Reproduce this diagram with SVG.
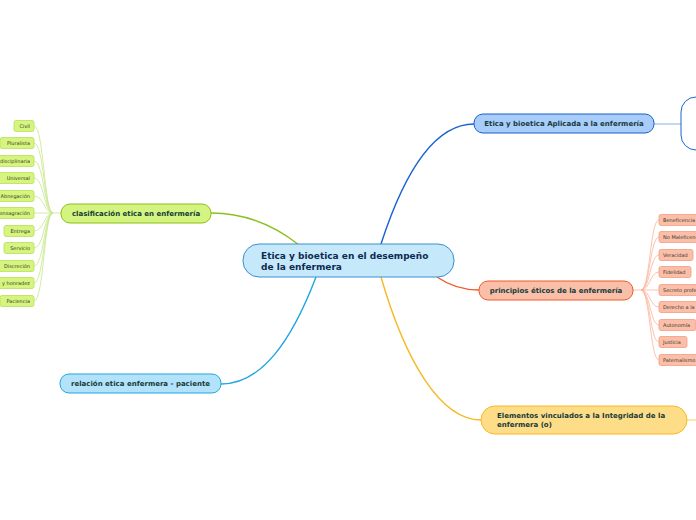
<svg xmlns="http://www.w3.org/2000/svg" width="696" height="520" viewBox="0 0 696 520">
<style>
text{font-family:"DejaVu Sans",Verdana,sans-serif;}
.c{fill:none;stroke-width:1.4;}
.t{font-weight:bold;font-size:7px;fill:#173a3a;}
.lg rect{fill:#d6f57f;stroke:#b7e05c;stroke-width:0.8;}
.lr rect{fill:#fbbfa9;stroke:#f59c80;stroke-width:0.8;}
.leaf{font-size:5px;fill:#3a3a2a;}
</style>
<rect width="696" height="520" fill="#fff"/>
<g id="connectors">
<path class="c" stroke="#8cbf18" d="M299,245 C275,226 245,213 211,213"/>
<path class="c" stroke="#1a64d0" d="M381,244 C405,170 435,124 474,124"/>
<path class="c" stroke="#f05a28" d="M437,277 C450,286 462,290 479,290"/>
<path class="c" stroke="#f8b820" d="M381,277 C405,360 440,420 481,420"/>
<path class="c" stroke="#1ea6e0" d="M316,277 C292,340 262,384 221,384"/>
<path class="c" stroke="#a8c8f0" stroke-width="2" d="M654,124 L681,124"/>
<path class="c" stroke="#fedd88" stroke-width="2" d="M687,420 L696,420"/>
<g stroke="#c8e68a" fill="none" stroke-width="0.8">
<path d="M61,213 L53,213"/>
<path d="M53,213 C44,213 44,126 34,126"/>
<path d="M53,213 C44,213 44,143 34,143"/>
<path d="M53,213 C44,213 44,161 34,161"/>
<path d="M53,213 C44,213 44,178 34,178"/>
<path d="M53,213 C44,213 44,196 34,196"/>
<path d="M53,213 L34,213"/>
<path d="M53,213 C44,213 44,231 34,231"/>
<path d="M53,213 C44,213 44,248 34,248"/>
<path d="M53,213 C44,213 44,266 34,266"/>
<path d="M53,213 C44,213 44,283 34,283"/>
<path d="M53,213 C44,213 44,301 34,301"/>
</g>
<g stroke="#fbb39a" fill="none" stroke-width="0.8">
<path d="M633,290 L641,290"/>
<path d="M641,290 C650,290 650,220 659,220"/>
<path d="M641,290 C650,290 650,237 659,237"/>
<path d="M641,290 C650,290 650,255 659,255"/>
<path d="M641,290 C650,290 650,272 659,272"/>
<path d="M641,290 L659,290"/>
<path d="M641,290 C650,290 650,307 659,307"/>
<path d="M641,290 C650,290 650,325 659,325"/>
<path d="M641,290 C650,290 650,342 659,342"/>
<path d="M641,290 C650,290 650,360 659,360"/>
</g>
</g>
<g id="central">
<rect x="243" y="244" width="211" height="33" rx="16" fill="#c5e9fb" stroke="#3a8fd0" stroke-width="1"/>
<text x="261" y="259" font-size="9" font-weight="bold" fill="#0d2a50">Etica y bioetica en el desempeño</text>
<text x="261" y="270" font-size="9" font-weight="bold" fill="#0d2a50">de la enfermera</text>
</g>
<g id="clasificacion">
<rect x="61" y="204" width="150" height="19" rx="9" fill="#d3f57f" stroke="#8cbf18" stroke-width="1"/>
<text class="t" x="136" y="216" text-anchor="middle">clasificación etica en enfermería</text>
</g>
<g id="aplicada">
<rect x="474" y="114" width="180" height="19" rx="9" fill="#a8cdfa" stroke="#1a5fc8" stroke-width="1"/>
<text class="t" x="564" y="126" text-anchor="middle">Etica y bioetica Aplicada a la enfermería</text>
</g>
<g id="aplicada-child">
<rect x="681" y="97" width="60" height="53" rx="15" fill="#fff" stroke="#1a64d0" stroke-width="1"/>
</g>
<g id="principios">
<rect x="479" y="281" width="154" height="19" rx="9" fill="#f9bfa8" stroke="#f05a28" stroke-width="1"/>
<text class="t" x="556" y="293" text-anchor="middle">principios éticos de la enfermería</text>
</g>
<g id="elementos">
<rect x="481" y="406" width="206" height="28" rx="14" fill="#fedd88" stroke="#f8b820" stroke-width="1"/>
<text class="t" x="497" y="418">Elementos vinculados a la Integridad de la</text>
<text class="t" x="497" y="427">enfermera (o)</text>
</g>
<g id="relacion">
<rect x="60" y="374" width="161" height="19" rx="9" fill="#b3e3fb" stroke="#1ea6e0" stroke-width="1"/>
<text class="t" x="140.5" y="386" text-anchor="middle">relación etica enfermera - paciente</text>
</g>
<g class="lg">
<g id="l-civil"><rect x="14" y="120.5" width="20" height="11" rx="2"/><text class="leaf" x="30" y="127.8" text-anchor="end">Civil</text></g>
<g id="l-pluralista"><rect x="0" y="137.5" width="34" height="11" rx="2"/><text class="leaf" x="30" y="144.8" text-anchor="end">Pluralista</text></g>
<g id="l-disciplinaria"><rect x="-10" y="155.5" width="44" height="11" rx="2"/><text class="leaf" x="30" y="162.8" text-anchor="end">disciplinaria</text></g>
<g id="l-universal"><rect x="-2" y="172.5" width="36" height="11" rx="2"/><text class="leaf" x="30" y="179.8" text-anchor="end">Universal</text></g>
<g id="l-abnegacion"><rect x="-8" y="190.5" width="42" height="11" rx="2"/><text class="leaf" x="30" y="197.8" text-anchor="end">Abnegación</text></g>
<g id="l-consagracion"><rect x="-12" y="207.5" width="46" height="11" rx="2"/><text class="leaf" x="30" y="214.8" text-anchor="end">Consagración</text></g>
<g id="l-entrega"><rect x="4" y="225.5" width="30" height="11" rx="2"/><text class="leaf" x="30" y="232.8" text-anchor="end">Entrega</text></g>
<g id="l-servicio"><rect x="4" y="242.5" width="30" height="11" rx="2"/><text class="leaf" x="30" y="249.8" text-anchor="end">Servicio</text></g>
<g id="l-discrecion"><rect x="-6" y="260.5" width="40" height="11" rx="2"/><text class="leaf" x="30" y="267.8" text-anchor="end">Discreción</text></g>
<g id="l-honradez"><rect x="-8" y="277.5" width="42" height="11" rx="2"/><text class="leaf" x="30" y="284.8" text-anchor="end">y honradez</text></g>
<g id="l-paciencia"><rect x="0" y="295.5" width="34" height="11" rx="2"/><text class="leaf" x="30" y="302.8" text-anchor="end">Paciencia</text></g>
</g>
<g class="lr">
<g id="r-beneficencia"><rect x="659" y="214.5" width="50" height="11" rx="2"/><text class="leaf" x="663" y="221.8">Beneficencia</text></g>
<g id="r-nomaleficencia"><rect x="659" y="231.5" width="60" height="11" rx="2"/><text class="leaf" x="663" y="238.8">No Maleficencia</text></g>
<g id="r-veracidad"><rect x="659" y="249.5" width="34" height="11" rx="2"/><text class="leaf" x="663" y="256.8">Veracidad</text></g>
<g id="r-fidelidad"><rect x="659" y="266.5" width="32" height="11" rx="2"/><text class="leaf" x="663" y="273.8">Fidelidad</text></g>
<g id="r-secreto"><rect x="659" y="284.5" width="60" height="11" rx="2"/><text class="leaf" x="663" y="291.8">Secreto profesional</text></g>
<g id="r-derecho"><rect x="659" y="301.5" width="60" height="11" rx="2"/><text class="leaf" x="663" y="308.8">Derecho a la</text></g>
<g id="r-autonomia"><rect x="659" y="319.5" width="37" height="11" rx="2"/><text class="leaf" x="663" y="326.8">Autonomía</text></g>
<g id="r-justicia"><rect x="659" y="336.5" width="28" height="11" rx="2"/><text class="leaf" x="663" y="343.8">Justicia</text></g>
<g id="r-paternalismo"><rect x="659" y="354.5" width="50" height="11" rx="2"/><text class="leaf" x="663" y="361.8">Paternalismo</text></g>
</g>
</svg>
